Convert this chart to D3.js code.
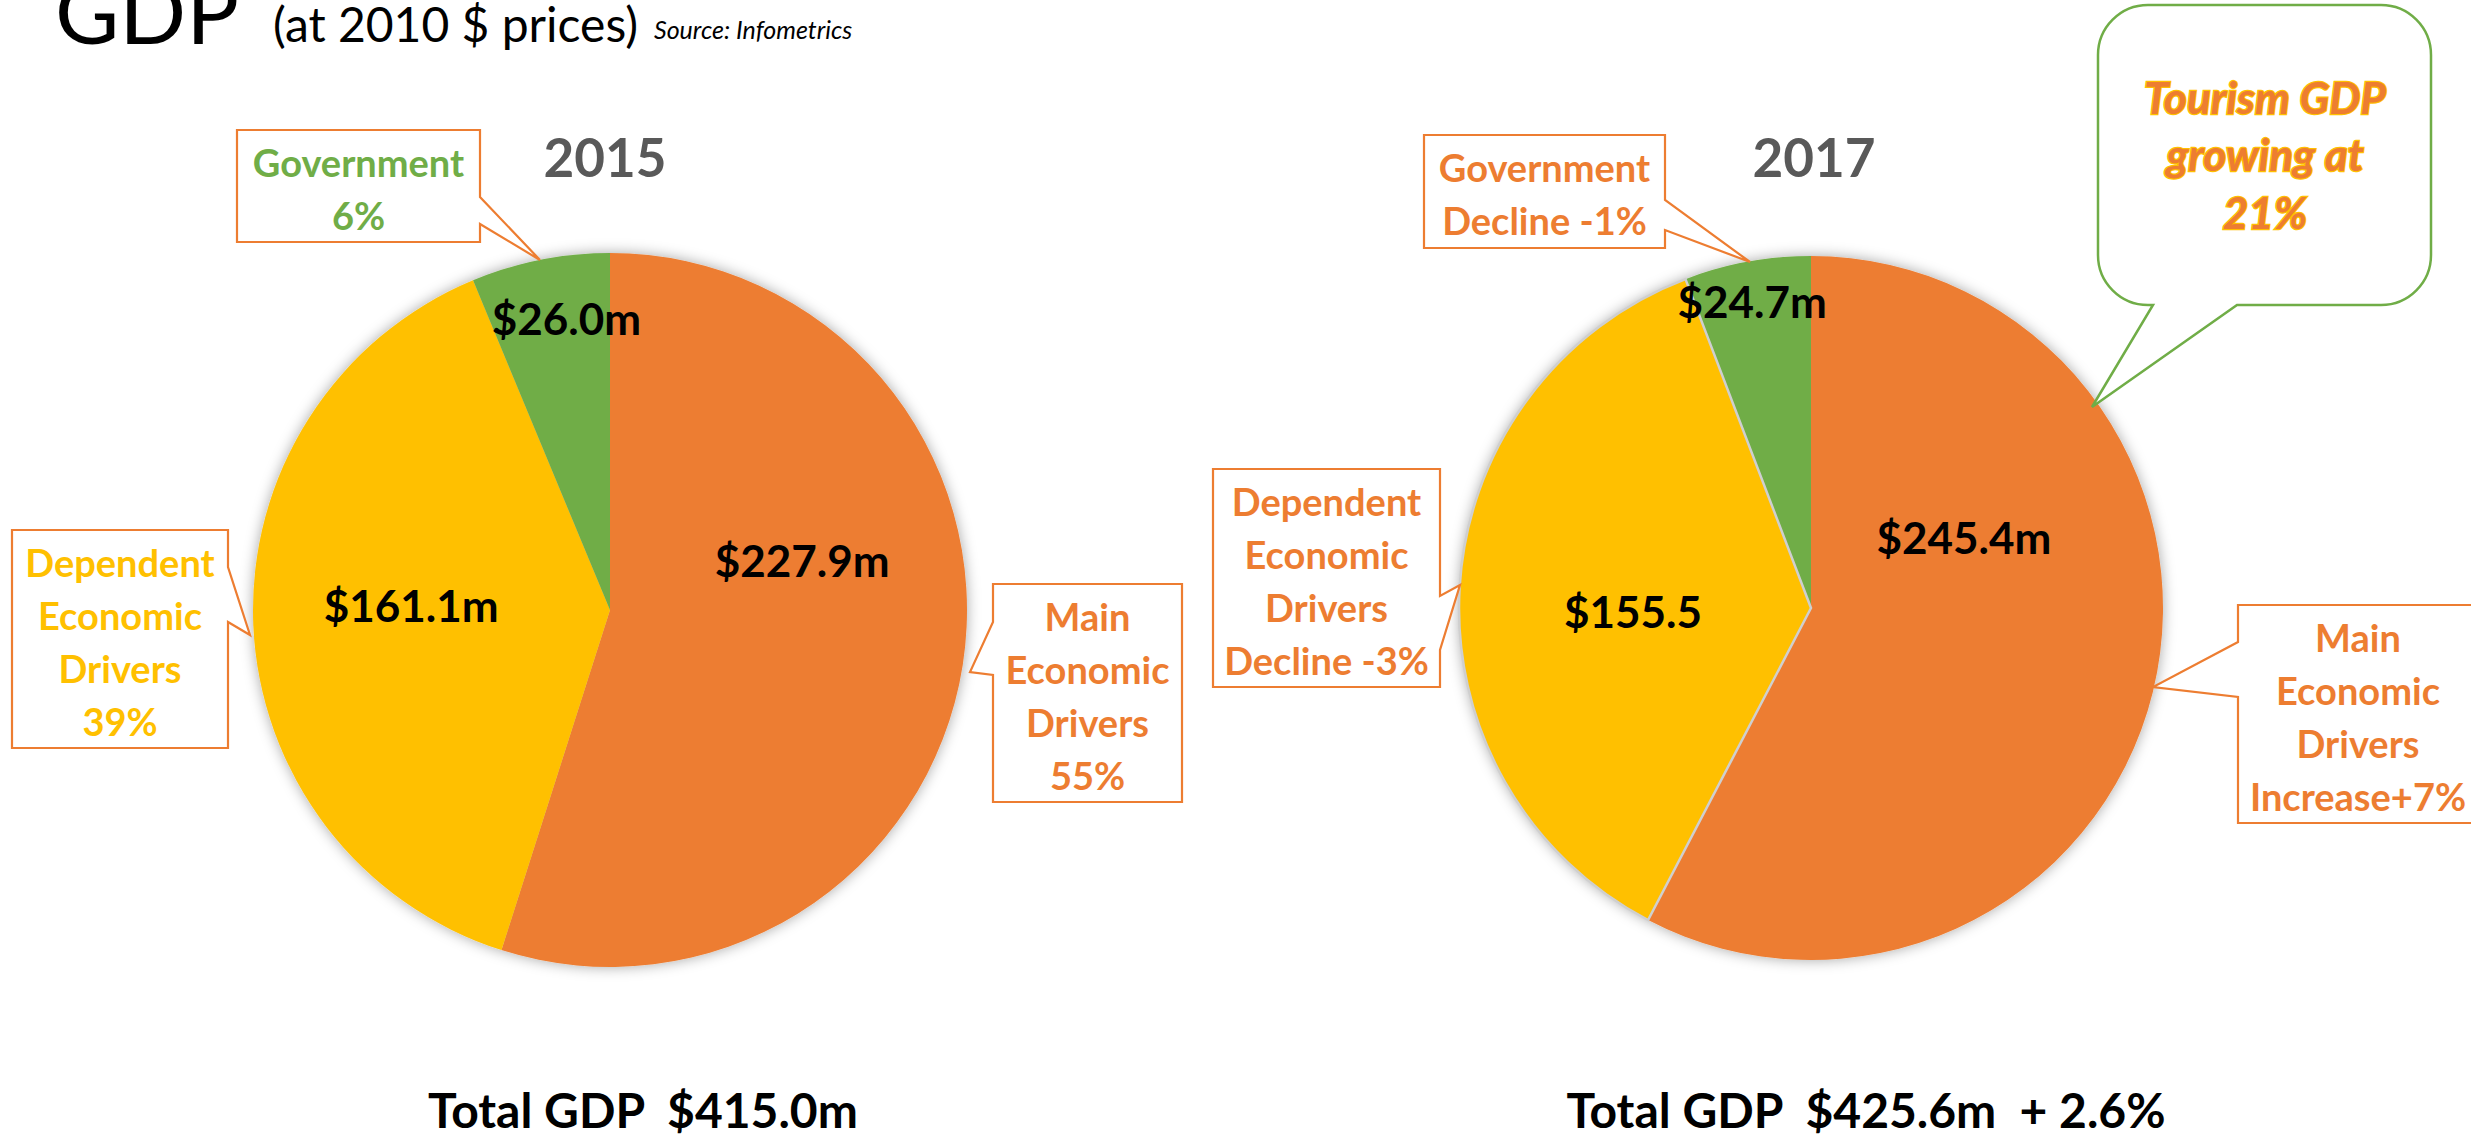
<!DOCTYPE html>
<html>
<head>
<meta charset="utf-8">
<script src="https://cdn.jsdelivr.net/npm/d3@7"></script>
<style>
  html, body { margin: 0; padding: 0; background: #fff; }
  svg { display: block; }
  text { font-family: Lato, Carlito, Calibri, "Open Sans", sans-serif; }
</style>
</head>
<body>
<svg id="chart"></svg>
<script>
// ---- data ----
const years = ["2015", "2017"];
const sectors = ["Main Economic Drivers", "Dependent Economic Drivers", "Government"];
const sectorColours = ["#ED7D31", "#FFC000", "#70AD47"];
const gdp2015 = [227.9, 161.1, 26.0];
const gdp2017 = [245.4, 155.5, 24.7];
const valueText2015 = ["$227.9m", "$161.1m", "$26.0m"];
const valueText2017 = ["$245.4m", "$155.5", "$24.7m"];
const callout2015 = [["Main", "Economic", "Drivers", "55%"],
                     ["Dependent", "Economic", "Drivers", "39%"],
                     ["Government", "6%"]];
const callout2017 = [["Main", "Economic", "Drivers", "Increase+7%"],
                     ["Dependent", "Economic", "Drivers", "Decline -3%"],
                     ["Government", "Decline -1%"]];
const totalText = ["Total GDP  $415.0m", "Total GDP  $425.6m  + 2.6%"];
const tourismText = ["Tourism GDP", "growing at", "21%"];

// ---- layout ----
const W = 2471, H = 1139;
const ORANGE = "#ED7D31";

const pies = [
  { year: years[0], values: gdp2015, labels: valueText2015, callouts: callout2015,
    cx: 610, cy: 610, r: 357,
    labelPos: [[75.8, 0.555], [-88.9, 0.557], [-8.5, 0.825]],   // angle (deg), radius fraction
    textColours: sectorColours, yellowEdge: false,
    boxes: [
      { x: 993, y: 584, w: 189, h: 218, side: "left",  base: [622, 675], tip: [970, 672] },
      { x: 12,  y: 530, w: 216, h: 218, side: "right", base: [567, 622], tip: [250, 635] },
      { x: 237, y: 130, w: 243, h: 112, side: "right", base: [197, 224], tip: [540, 260] }
    ],
    titleX: 605, totalX: 643 },
  { year: years[1], values: gdp2017, labels: valueText2017, callouts: callout2017,
    cx: 1811, cy: 608, r: 352,
    labelPos: [[65.4, 0.478], [-91.3, 0.506], [-10.9, 0.885]],
    textColours: [ORANGE, ORANGE, ORANGE], yellowEdge: true,
    boxes: [
      { x: 2238, y: 605, w: 240, h: 218, side: "left",  base: [642, 697], tip: [2153, 687] },
      { x: 1213, y: 469, w: 227, h: 218, side: "right", base: [596, 650], tip: [1460, 585] },
      { x: 1424, y: 135, w: 241, h: 113, side: "right", base: [200, 230], tip: [1750, 262] }
    ],
    titleX: 1814, totalX: 1866 }
];

const bubble = { x: 2098, y: 5, w: 333, h: 300, rx: 50, base: [2237, 2153], tip: [2092, 407],
                 textX: 2265, baselines: [114, 171, 229] };

const svg = d3.select("#chart").attr("width", W).attr("height", H)
  .attr("viewBox", `0 0 ${W} ${H}`);

// soft glow shadow around the pies
const defs = svg.append("defs");
defs.append("filter").attr("id", "pieShadow")
  .attr("x", "-20%").attr("y", "-20%").attr("width", "140%").attr("height", "140%")
  .append("feDropShadow")
  .attr("dx", 0).attr("dy", 0).attr("stdDeviation", 7)
  .attr("flood-color", "#000").attr("flood-opacity", 0.35);

const colour = d3.scaleOrdinal().domain(sectors).range(sectorColours);
const pie = d3.pie().sort(null).value(d => d.value);

// ---- heading ----
svg.append("text").attr("x", 55).attr("y", 44)
  .attr("font-size", 88).attr("fill", "#000").text("GDP");
svg.append("text").attr("x", 273).attr("y", 42)
  .attr("font-size", 48).attr("fill", "#000").text("(at 2010 $ prices)");
svg.append("text").attr("x", 654).attr("y", 39)
  .attr("font-size", 25).attr("font-style", "italic").attr("fill", "#000").text("Source: Infometrics");

function calloutPath(b) {
  const p = d3.path();
  const x0 = b.x, y0 = b.y, x1 = b.x + b.w, y1 = b.y + b.h;
  p.moveTo(x0, y0); p.lineTo(x1, y0);
  if (b.side === "right") { p.lineTo(x1, b.base[0]); p.lineTo(b.tip[0], b.tip[1]); p.lineTo(x1, b.base[1]); }
  p.lineTo(x1, y1); p.lineTo(x0, y1);
  if (b.side === "left") { p.lineTo(x0, b.base[1]); p.lineTo(b.tip[0], b.tip[1]); p.lineTo(x0, b.base[0]); }
  p.closePath();
  return p.toString();
}

pies.forEach(P => {
  const data = sectors.map((s, i) => ({ sector: s, value: P.values[i], label: P.labels[i] }));
  const arcs = pie(data);
  const arc = d3.arc().innerRadius(0).outerRadius(P.r);

  const g = svg.append("g").attr("transform", `translate(${P.cx},${P.cy})`);

  g.append("g").attr("filter", "url(#pieShadow)")
    .selectAll("path").data(arcs).join("path")
    .attr("d", arc)
    .attr("fill", d => colour(d.data.sector));

  if (P.yellowEdge) {
    g.append("path").datum(arcs[1])
      .attr("d", arc).attr("fill", "none")
      .attr("stroke", "#cfcfcf").attr("stroke-width", 2.5);
  }

  // year title
  svg.append("text").attr("x", P.titleX).attr("y", 177)
    .attr("text-anchor", "middle").attr("font-size", 53).attr("font-weight", 700)
    .attr("fill", "#595959").text(P.year);

  // callouts
  P.boxes.forEach((b, i) => {
    svg.append("path").attr("d", calloutPath(b))
      .attr("fill", "#fff").attr("stroke", ORANGE).attr("stroke-width", 2.2)
      .attr("stroke-linejoin", "miter");
    const lines = P.callouts[i];
    const cy = b.y + b.h / 2 + 3;
    const t = svg.append("text").attr("text-anchor", "middle")
      .attr("font-size", 38).attr("font-weight", 700).attr("fill", P.textColours[i]);
    lines.forEach((ln, k) => {
      t.append("tspan").attr("x", b.x + b.w / 2)
        .attr("y", cy + (k - (lines.length - 1) / 2) * 53 + 14)
        .text(ln);
    });
  });

  // value labels inside slices
  g.selectAll("text.value").data(arcs).join("text")
    .attr("class", "value")
    .attr("transform", (d, i) => {
      const [a, f] = P.labelPos[i];
      const [x, y] = d3.pointRadial(a * Math.PI / 180, f * P.r);
      return `translate(${x},${y})`;
    })
    .attr("dy", "0.36em")
    .attr("text-anchor", "middle").attr("font-size", 44).attr("font-weight", 700)
    .attr("fill", "#000")
    .text(d => d.data.label);
});

// totals
svg.selectAll("text.total").data(totalText).join("text")
  .attr("class", "total")
  .attr("x", (d, i) => pies[i].totalX).attr("y", 1128)
  .attr("text-anchor", "middle").attr("font-size", 48).attr("font-weight", 700)
  .attr("fill", "#000").style("white-space", "pre")
  .text(d => d);

// tourism speech bubble
{
  const b = bubble, p = d3.path();
  const x0 = b.x, y0 = b.y, x1 = b.x + b.w, y1 = b.y + b.h;
  p.moveTo(x0 + b.rx, y0);
  p.arcTo(x1, y0, x1, y1, b.rx);
  p.arcTo(x1, y1, b.base[0], y1, b.rx);
  p.lineTo(b.base[0], y1);
  p.lineTo(b.tip[0], b.tip[1]);
  p.lineTo(b.base[1], y1);
  p.arcTo(x0, y1, x0, y0, b.rx);
  p.arcTo(x0, y0, x1, y0, b.rx);
  p.closePath();
  svg.append("path").attr("d", p.toString())
    .attr("fill", "#fff").attr("stroke", "#70AD47").attr("stroke-width", 2.5);

  const t = svg.append("text").attr("text-anchor", "middle")
    .attr("font-size", 44).attr("font-weight", 700).attr("font-style", "italic")
    .attr("fill", ORANGE).attr("stroke", "#FFC000").attr("stroke-width", 2.5)
    .style("paint-order", "stroke");
  tourismText.forEach((ln, k) => {
    t.append("tspan").attr("x", b.textX).attr("y", b.baselines[k]).text(ln);
  });
}
</script>
</body>
</html>
